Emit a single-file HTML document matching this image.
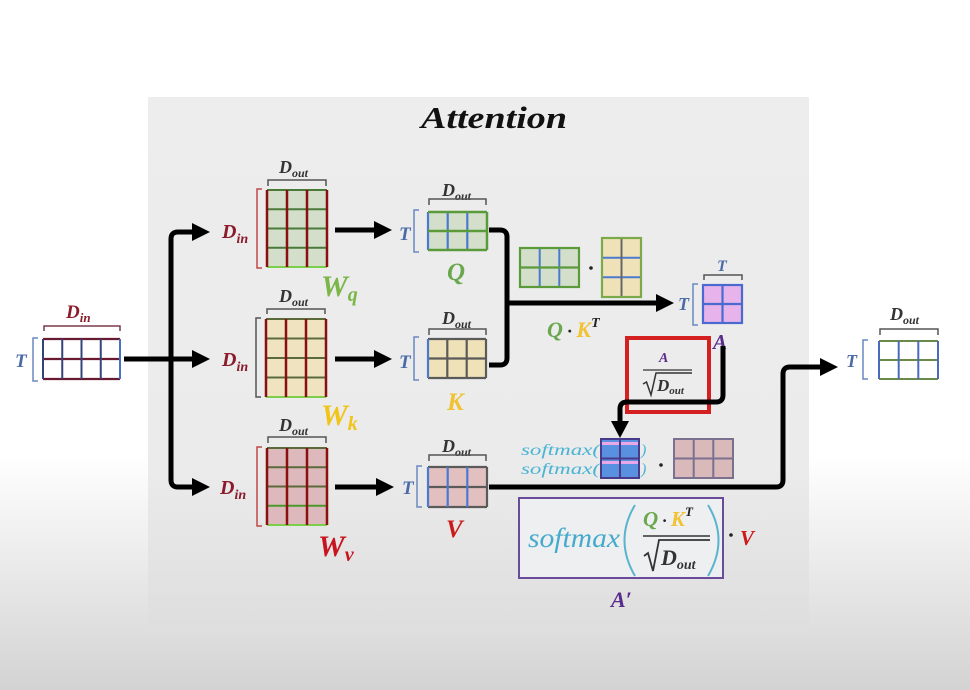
<!DOCTYPE html>
<html>
<head>
<meta charset="utf-8">
<style>
html,body{margin:0;padding:0;width:970px;height:690px;overflow:hidden;background:#fff;}
svg{display:block;}
text{font-family:"Liberation Serif","DejaVu Serif",serif;font-weight:bold;font-style:italic;}
text.reg{font-weight:normal;}
</style>
</head>
<body>
<svg width="970" height="690" viewBox="0 0 970 690" xmlns="http://www.w3.org/2000/svg">
<defs>
<linearGradient id="bg" x1="0" y1="0" x2="0" y2="1">
<stop offset="0" stop-color="#ffffff"/>
<stop offset="0.66" stop-color="#ffffff"/>
<stop offset="1" stop-color="#d3d3d3"/>
</linearGradient>
<linearGradient id="pn" x1="0" y1="0" x2="0" y2="1">
<stop offset="0" stop-color="#ededed"/>
<stop offset="0.7" stop-color="#ebebeb"/>
<stop offset="1" stop-color="#dedede"/>
</linearGradient>
</defs>
<rect x="0" y="0" width="970" height="690" fill="url(#bg)"/>
<rect x="148" y="97" width="661" height="530" fill="url(#pn)"/>

<!-- Title -->
<text x="421" y="128" font-size="31" fill="#111" textLength="146" lengthAdjust="spacingAndGlyphs">Attention</text>

<!-- ===== Input matrix ===== -->
<text x="66" y="318" font-size="19" fill="#8b1a2a">D<tspan font-size="13" dy="4">in</tspan></text>
<path d="M44 331 V326 H120 V331" fill="none" stroke="#7a3a4a" stroke-width="1.5"/>
<text x="15" y="367" font-size="19" fill="#4a6aa8">T</text>
<path d="M38 338 H33 V381 H38" fill="none" stroke="#6a8ac0" stroke-width="1.5"/>
<rect x="43" y="339" width="77" height="40" fill="#ffffff"/>
<g stroke="#6a1a30" stroke-width="2.2"><line x1="43" y1="339" x2="120" y2="339"/><line x1="43" y1="359" x2="120" y2="359"/><line x1="43" y1="379" x2="120" y2="379"/></g>
<g stroke="#34447a" stroke-width="2"><line x1="43" y1="339" x2="43" y2="379"/><line x1="62.25" y1="339" x2="62.25" y2="379"/><line x1="81.5" y1="339" x2="81.5" y2="379"/><line x1="100.75" y1="339" x2="100.75" y2="379"/><line x1="120" y1="339" x2="120" y2="379" stroke="#4a70c0"/></g>

<!-- ===== Left connector ===== -->
<g fill="none" stroke="#000" stroke-width="5">
<line x1="124" y1="359" x2="194" y2="359"/>
<path d="M194 232 H178 Q171 232 171 239 V480 Q171 487 178 487 H194"/>
</g>
<g fill="#000">
<polygon points="192,350 210,359 192,368"/>
<polygon points="192,223 210,232 192,241"/>
<polygon points="192,478 210,487 192,496"/>
</g>

<!-- ===== W_q ===== -->
<text x="279" y="173" font-size="18" fill="#333">D<tspan font-size="12" dy="4">out</tspan></text>
<path d="M268 186 V180 H326 V186" fill="none" stroke="#555" stroke-width="1.5"/>
<text x="222" y="238" font-size="20" fill="#8b1a2a">D<tspan font-size="14" dy="5">in</tspan></text>
<path d="M262 189 H257 V268 H262" fill="none" stroke="#c04848" stroke-width="1.5"/>
<rect x="267" y="190" width="60" height="77" fill="#d3dfca"/>
<g stroke="#4a7a3a" stroke-width="2"><line x1="267" y1="190" x2="327" y2="190"/><line x1="267" y1="209.25" x2="327" y2="209.25"/><line x1="267" y1="228.5" x2="327" y2="228.5"/><line x1="267" y1="247.75" x2="327" y2="247.75"/><line x1="267" y1="267" x2="327" y2="267" stroke="#7ccf4a"/></g>
<g stroke="#8a0f0f" stroke-width="2.5"><line x1="267" y1="190" x2="267" y2="267"/><line x1="287" y1="190" x2="287" y2="267"/><line x1="307" y1="190" x2="307" y2="267"/><line x1="327" y1="190" x2="327" y2="267"/></g>
<text x="321" y="296" font-size="30" fill="#7ab648">W<tspan font-size="20" dy="5">q</tspan></text>

<!-- ===== W_k ===== -->
<text x="279" y="302" font-size="18" fill="#333">D<tspan font-size="12" dy="4">out</tspan></text>
<path d="M267 314 V309 H325 V314" fill="none" stroke="#555" stroke-width="1.5"/>
<text x="222" y="366" font-size="20" fill="#8b1a2a">D<tspan font-size="14" dy="5">in</tspan></text>
<path d="M261 318 H256 V397 H261" fill="none" stroke="#555" stroke-width="1.5"/>
<rect x="266" y="319" width="60" height="78" fill="#f0e4c0"/>
<g stroke="#5a6a3a" stroke-width="2"><line x1="266" y1="319" x2="326" y2="319"/><line x1="266" y1="338.5" x2="326" y2="338.5"/><line x1="266" y1="358" x2="326" y2="358"/><line x1="266" y1="377.5" x2="326" y2="377.5"/><line x1="266" y1="397" x2="326" y2="397" stroke="#7ccf4a"/></g>
<g stroke="#8a0f0f" stroke-width="2.5"><line x1="266" y1="319" x2="266" y2="397"/><line x1="286" y1="319" x2="286" y2="397"/><line x1="306" y1="319" x2="306" y2="397"/><line x1="326" y1="319" x2="326" y2="397"/></g>
<text x="321" y="425" font-size="30" fill="#f0c419">W<tspan font-size="20" dy="5">k</tspan></text>

<!-- ===== W_v ===== -->
<text x="279" y="431" font-size="18" fill="#333">D<tspan font-size="12" dy="4">out</tspan></text>
<path d="M268 443 V437 H326 V443" fill="none" stroke="#555" stroke-width="1.5"/>
<text x="220" y="494" font-size="20" fill="#8b1a2a">D<tspan font-size="14" dy="5">in</tspan></text>
<path d="M262 447 H257 V526 H262" fill="none" stroke="#c04848" stroke-width="1.5"/>
<rect x="267" y="448" width="60" height="77" fill="#ddb8bc"/>
<g stroke="#5a6a3a" stroke-width="2"><line x1="267" y1="448" x2="327" y2="448"/><line x1="267" y1="467.25" x2="327" y2="467.25"/><line x1="267" y1="486.5" x2="327" y2="486.5"/><line x1="267" y1="505.75" x2="327" y2="505.75" stroke="#4a9a2a"/><line x1="267" y1="525" x2="327" y2="525" stroke="#7ccf4a"/></g>
<g stroke="#8a0f0f" stroke-width="2.5"><line x1="267" y1="448" x2="267" y2="525"/><line x1="287" y1="448" x2="287" y2="525"/><line x1="307" y1="448" x2="307" y2="525"/><line x1="327" y1="448" x2="327" y2="525"/></g>
<text x="318" y="556" font-size="30" fill="#c8141e">W<tspan font-size="20" dy="5">v</tspan></text>

<!-- ===== W -> Q/K/V arrows ===== -->
<g stroke="#000" stroke-width="5"><line x1="335" y1="230" x2="376" y2="230"/><line x1="335" y1="359" x2="376" y2="359"/><line x1="335" y1="487" x2="378" y2="487"/></g>
<g fill="#000"><polygon points="374,221 392,230 374,239"/><polygon points="374,350 392,359 374,368"/><polygon points="376,478 394,487 376,496"/></g>

<!-- ===== Q ===== -->
<text x="442" y="196" font-size="18" fill="#333">D<tspan font-size="12" dy="4">out</tspan></text>
<path d="M429 205 V199 H486 V205" fill="none" stroke="#555" stroke-width="1.5"/>
<text x="399" y="240" font-size="19" fill="#4a6aa8">T</text>
<path d="M419 210 H414 V252 H419" fill="none" stroke="#6a8ac0" stroke-width="1.5"/>
<rect x="428" y="212" width="59" height="38" fill="#d3dfca"/>
<g stroke="#4a7ad0" stroke-width="2.2"><line x1="428" y1="212" x2="428" y2="250"/><line x1="447.7" y1="212" x2="447.7" y2="250"/><line x1="467.3" y1="212" x2="467.3" y2="250"/></g>
<g stroke="#5a9a3a" stroke-width="2.5"><line x1="428" y1="212" x2="487" y2="212"/><line x1="428" y1="231" x2="487" y2="231"/><line x1="428" y1="250" x2="487" y2="250"/><line x1="487" y1="212" x2="487" y2="250"/></g>
<text x="447" y="280" font-size="25" fill="#6aa84f">Q</text>

<!-- ===== K ===== -->
<text x="442" y="324" font-size="18" fill="#333">D<tspan font-size="12" dy="4">out</tspan></text>
<path d="M429 335 V329 H486 V335" fill="none" stroke="#555" stroke-width="1.5"/>
<text x="399" y="368" font-size="19" fill="#4a6aa8">T</text>
<path d="M419 337 H414 V380 H419" fill="none" stroke="#6a8ac0" stroke-width="1.5"/>
<rect x="428" y="339" width="58" height="39" fill="#f0e2b8"/>
<g stroke="#5a5a5a" stroke-width="2.2"><line x1="428" y1="339" x2="486" y2="339"/><line x1="428" y1="358.5" x2="486" y2="358.5"/><line x1="428" y1="378" x2="486" y2="378"/><line x1="486" y1="339" x2="486" y2="378"/><line x1="447.3" y1="339" x2="447.3" y2="378"/><line x1="466.7" y1="339" x2="466.7" y2="378"/></g>
<line x1="428" y1="339" x2="428" y2="378" stroke="#4a7ad0" stroke-width="2.2"/>
<text x="447" y="410" font-size="25" fill="#f1c232">K</text>

<!-- ===== V ===== -->
<text x="442" y="452" font-size="18" fill="#333">D<tspan font-size="12" dy="4">out</tspan></text>
<path d="M429 461 V455 H486 V461" fill="none" stroke="#555" stroke-width="1.5"/>
<text x="402" y="494" font-size="19" fill="#4a6aa8">T</text>
<path d="M422 466 H417 V507 H422" fill="none" stroke="#6a8ac0" stroke-width="1.5"/>
<rect x="428" y="467" width="59" height="40" fill="#e3c0c0"/>
<g stroke="#5a5a5a" stroke-width="2.2"><line x1="428" y1="467" x2="487" y2="467"/><line x1="428" y1="487" x2="487" y2="487"/><line x1="428" y1="507" x2="487" y2="507"/><line x1="487" y1="467" x2="487" y2="507"/></g>
<g stroke="#4a7ad0" stroke-width="2.2"><line x1="428" y1="467" x2="428" y2="507"/><line x1="447.7" y1="467" x2="447.7" y2="507"/><line x1="467.3" y1="467" x2="467.3" y2="507"/></g>
<text x="446" y="537" font-size="25" fill="#cc1a1a">V</text>

<!-- ===== Q/K merge connector ===== -->
<g fill="none" stroke="#000" stroke-width="5">
<path d="M489 230 H500 Q507 230 507 237 V358 Q507 365 500 365 H489"/>
<line x1="507" y1="303" x2="658" y2="303"/>
</g>
<polygon points="656,294 674,303 656,312" fill="#000"/>

<!-- Q . K^T thumbnails -->
<rect x="520" y="248" width="59" height="39" fill="#d3dfca"/>
<g stroke="#4a7ad0" stroke-width="2"><line x1="539.7" y1="248" x2="539.7" y2="287"/><line x1="559.3" y1="248" x2="559.3" y2="287"/></g>
<g stroke="#5a9a3a" stroke-width="2.2" fill="none"><rect x="520" y="248" width="59" height="39"/><line x1="520" y1="267.5" x2="579" y2="267.5"/></g>
<circle cx="591" cy="268" r="1.8" fill="#222"/>
<rect x="602" y="238" width="39" height="59" fill="#f0e2b8"/>
<g stroke="#4a7ad0" stroke-width="2"><line x1="602" y1="257.7" x2="641" y2="257.7"/><line x1="602" y1="277.3" x2="641" y2="277.3"/></g>
<line x1="621.5" y1="238" x2="621.5" y2="297" stroke="#666" stroke-width="2"/>
<rect x="602" y="238" width="39" height="59" fill="none" stroke="#7aaa4a" stroke-width="2.2"/>
<text x="547" y="337" font-size="22" fill="#6aa84f">Q<tspan fill="#222" font-size="18"> · </tspan><tspan fill="#f1c232">K</tspan><tspan fill="#222" font-size="14" dy="-10">T</tspan></text>

<!-- ===== A ===== -->
<text x="717" y="271" font-size="16" fill="#4a6aa8">T</text>
<path d="M704 280 V275 H742 V280" fill="none" stroke="#555" stroke-width="1.5"/>
<text x="678" y="310" font-size="18" fill="#4a6aa8">T</text>
<path d="M698 284 H693 V325 H698" fill="none" stroke="#6a8ac0" stroke-width="1.5"/>
<rect x="703" y="285" width="39" height="38" fill="#e6b4ea"/>
<g stroke="#4a6ad0" stroke-width="2.2" fill="none"><rect x="703" y="285" width="39" height="38"/><line x1="722.5" y1="285" x2="722.5" y2="323"/><line x1="703" y1="304" x2="742" y2="304"/></g>
<text x="713" y="349" font-size="21" fill="#5b2c8c">A</text>

<!-- Red box -->
<rect x="627" y="338" width="82" height="74" fill="none" stroke="#d42020" stroke-width="4"/>
<text x="659" y="362" font-size="14" fill="#5b2c8c">A</text>
<line x1="643" y1="370" x2="692" y2="370" stroke="#333" stroke-width="1.3"/>
<path d="M643 384 L646.5 382 L651 395 L656 373 H692" fill="none" stroke="#333" stroke-width="1.5"/>
<text x="657" y="391" font-size="17" fill="#333">D<tspan font-size="11" dy="3">out</tspan></text>

<!-- A -> softmax connector -->
<path d="M723 346 V395 Q723 402 716 402 H627 Q620 402 620 409 V423" fill="none" stroke="#000" stroke-width="5"/>
<polygon points="611,421 620,438 629,421" fill="#000"/>

<!-- softmax row -->
<text class="reg" x="521" y="455" font-size="16" fill="#4ab4d4" style="font-weight:normal" textLength="79" lengthAdjust="spacingAndGlyphs">softmax(</text>
<text class="reg" x="521" y="474" font-size="16" fill="#4ab4d4" style="font-weight:normal" textLength="79" lengthAdjust="spacingAndGlyphs">softmax(</text>
<text class="reg" x="641" y="455" font-size="16" fill="#4ab4d4" style="font-weight:normal">)</text>
<text class="reg" x="641" y="474" font-size="16" fill="#4ab4d4" style="font-weight:normal">)</text>
<rect x="601" y="439" width="38" height="39" fill="#5a90e0"/>
<rect x="601" y="442" width="38" height="3" fill="#e8a8e8"/>
<rect x="601" y="461" width="38" height="3" fill="#e8a8e8"/>
<g stroke="#4a3a8a" stroke-width="2" fill="none"><rect x="601" y="439" width="38" height="39"/><line x1="620" y1="439" x2="620" y2="478"/><line x1="601" y1="458.5" x2="639" y2="458.5"/></g>
<circle cx="661" cy="465" r="1.8" fill="#222"/>
<rect x="674" y="439" width="59" height="39" fill="#d9b9b9"/>
<g stroke="#7a7090" stroke-width="2" fill="none"><rect x="674" y="439" width="59" height="39"/><line x1="693.7" y1="439" x2="693.7" y2="478"/><line x1="713.3" y1="439" x2="713.3" y2="478"/><line x1="674" y1="458.5" x2="733" y2="458.5"/></g>

<!-- V -> output connector -->
<path d="M489 487 H776 Q783 487 783 480 V374 Q783 367 790 367 H822" fill="none" stroke="#000" stroke-width="5"/>
<polygon points="820,358 838,367 820,376" fill="#000"/>

<!-- Formula box -->
<rect x="519" y="498" width="204" height="80" fill="#eeeff0" stroke="#6a4a9a" stroke-width="2"/>
<text class="reg" x="528" y="547" font-size="27" fill="#45aacc" style="font-weight:normal" textLength="92" lengthAdjust="spacingAndGlyphs">softmax</text>
<path d="M635 505 Q614 540 635 576" fill="none" stroke="#5ab4d0" stroke-width="2"/>
<path d="M708 505 Q729 540 708 576" fill="none" stroke="#5ab4d0" stroke-width="2"/>
<text x="643" y="526" font-size="21" fill="#6aa84f">Q<tspan fill="#222" font-size="17"> · </tspan><tspan fill="#f1c232">K</tspan><tspan fill="#222" font-size="13" dy="-10">T</tspan></text>
<line x1="643" y1="536" x2="710" y2="536" stroke="#333" stroke-width="1.5"/>
<path d="M644 556 L648 553 L653 571 L659 540 H710" fill="none" stroke="#333" stroke-width="1.8"/>
<text x="661" y="565" font-size="22" fill="#333">D<tspan font-size="14" dy="4">out</tspan></text>
<circle cx="731" cy="535" r="1.8" fill="#222"/>
<text x="740" y="545" font-size="21" fill="#cc1a1a">V</text>
<text x="611" y="607" font-size="22" fill="#5b2c8c">A′</text>

<!-- ===== Output ===== -->
<text x="890" y="320" font-size="18" fill="#333">D<tspan font-size="12" dy="4">out</tspan></text>
<path d="M880 335 V329 H938 V335" fill="none" stroke="#555" stroke-width="1.5"/>
<text x="846" y="367" font-size="18" fill="#4a6aa8">T</text>
<path d="M868 340 H863 V379 H868" fill="none" stroke="#6a8ac0" stroke-width="1.5"/>
<rect x="879" y="341" width="59" height="38" fill="#ffffff"/>
<g stroke="#6a8a4a" stroke-width="2"><line x1="879" y1="341" x2="938" y2="341"/><line x1="879" y1="360" x2="938" y2="360"/><line x1="879" y1="379" x2="938" y2="379"/></g>
<g stroke="#4a6ac0" stroke-width="2"><line x1="879" y1="341" x2="879" y2="379"/><line x1="898.7" y1="341" x2="898.7" y2="379"/><line x1="918.3" y1="341" x2="918.3" y2="379"/><line x1="938" y1="341" x2="938" y2="379"/></g>
</svg>
</body>
</html>
